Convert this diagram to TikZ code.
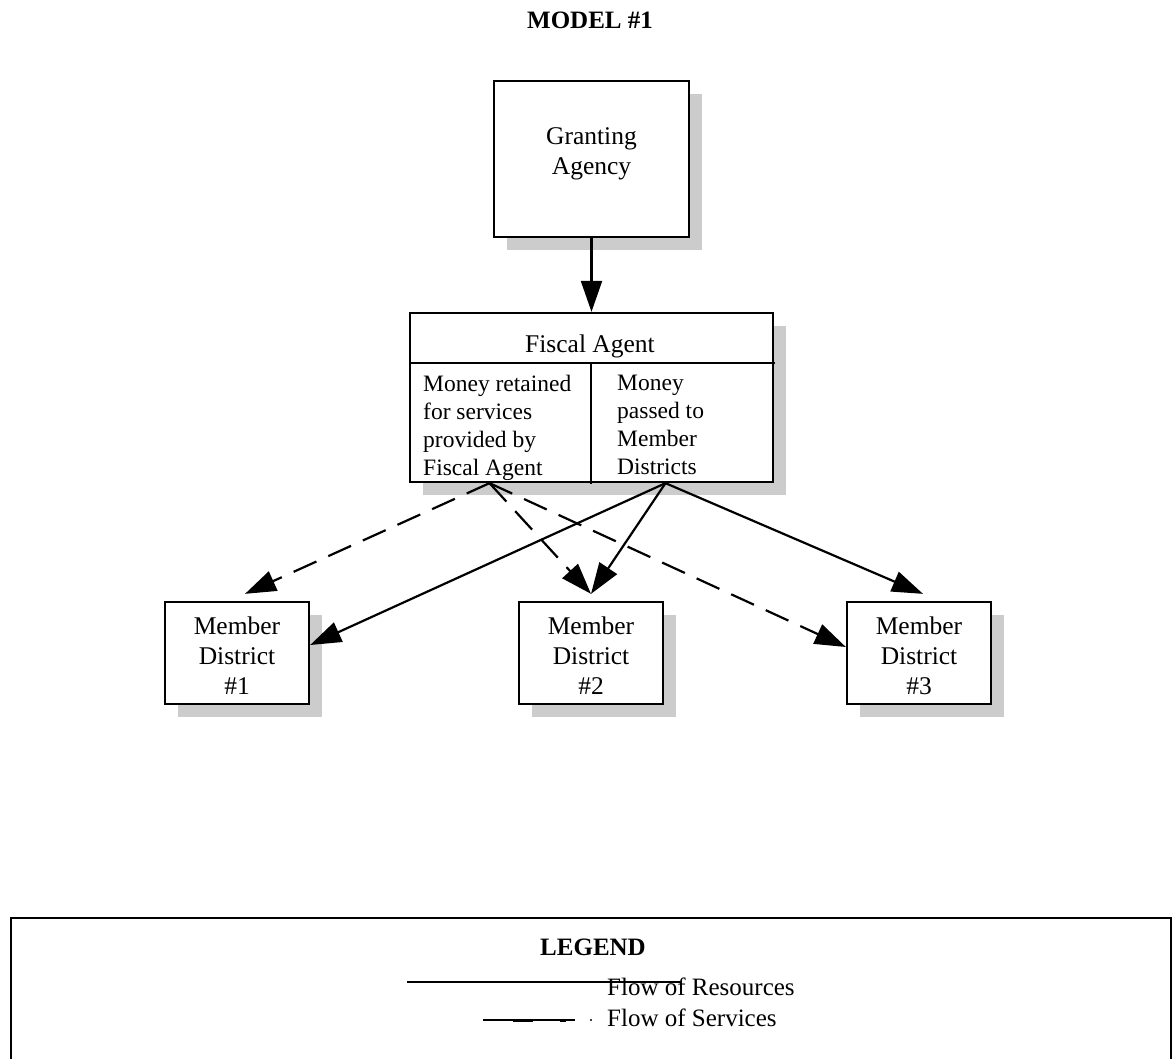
\documentclass[tikz,border=0pt]{standalone}
\usepackage{fontspec}
\setmainfont{Liberation Serif}
\usetikzlibrary{arrows.meta,shadows}
\begin{document}
\begin{tikzpicture}[x=1pt,y=-1pt,
  box/.style={draw,line width=2.3pt,fill=white,rectangle,inner sep=0pt,
    drop shadow={shadow xshift=13pt,shadow yshift=-13pt,fill=black!20,opacity=1},
    font=\fontsize{25.5}{30}\selectfont,align=center},
  flow/.style={line width=2.2pt,-{Triangle[length=31pt,width=21pt]}},
  resource/.style={flow},
  service/.style={flow,dash pattern=on 25pt off 13pt},
  txt/.style={inner sep=0pt,font=\fontsize{23.5}{28}\selectfont},
  ttl/.style={inner sep=0pt,font=\fontsize{25}{30}\selectfont\bfseries,anchor=base},
  legtxt/.style={inner sep=0pt,font=\fontsize{25}{30}\selectfont,anchor=base west},
  legline/.style={line width=2.2pt}]
\useasboundingbox[fill=white] (0,0) rectangle (1172,1059);

% title
\node[ttl] (title) at (590,29) {MODEL \#1};

% boxes
\node[box,minimum width=195pt,minimum height=156pt,text depth=15.6pt] (ga) at (591.5,159) {Granting\\Agency};
\node[box,minimum width=363pt,minimum height=169pt] (fa) at (591.5,397.5) {};
\node[box,minimum width=144pt,minimum height=102pt,text height=83pt] (md1) at (237,653) {Member\\District\\\#1};
\node[box,minimum width=144pt,minimum height=102pt,text height=83pt] (md2) at (591,653) {Member\\District\\\#2};
\node[box,minimum width=144pt,minimum height=102pt,text height=83pt] (md3) at (919,653) {Member\\District\\\#3};

% fiscal agent inner structure
\draw[line width=2.3pt] (410,363) coordinate (hl) -- (775,363) coordinate (hr);
\draw[line width=2.3pt] (591,363) coordinate (vt) -- (591,484) coordinate (vb);
\node[txt,anchor=base,font=\fontsize{25.5}{30}\selectfont] (fat) at (590,352) {Fiscal Agent};
\node[txt,anchor=north west,align=left] (fal) at (423,375)
  {Money retained\\for services\\provided by\\Fiscal Agent};
\node[txt,anchor=north west,align=left] (far) at (617,375)
  {Money\\passed to\\Member\\Districts};

% connectors
\draw[resource] (ga.south) -- (fa.north);
\coordinate (srcR) at ([xshift=74pt]fa.south);
\coordinate (srcS) at ([xshift=-102pt]fa.south);
\draw[resource] (srcR) -- ([yshift=8pt]md1.east);
\draw[resource] (srcR) -- ([yshift=7pt]md2.north);
\draw[resource] (srcR) -- ([xshift=4pt,yshift=7pt]md3.north);
\draw[service] (srcS) -- ([xshift=8pt,yshift=7pt]md1.north);
\draw[service] (srcS) -- ([yshift=7pt]md2.north);
\draw[service] (srcS) -- ([yshift=6pt]md3.west);

% legend
\draw[line width=2.3pt] (11,1080) |- (1171,918) -- (1171,1080);
\node[ttl] (leg) at (593,955) {LEGEND};
\coordinate (r1) at (407,982);
\coordinate (r2) at (680,982);
\draw[legline] (r1) -- (r2);
\node[legtxt] (lr) at (607,995) {Flow of Resources};
\coordinate (s1) at (483,1020);
\coordinate (s2) at (575,1020);
\draw[legline] (s1) -- (s2);
\draw[line width=3pt] (513,1020) -- (533,1020);
\draw[line width=3pt] (560,1020) -- (566,1020);
\fill (591,1020) circle (1.2pt);
\node[legtxt] (ls) at (607,1026) {Flow of Services};
\end{tikzpicture}
\end{document}
